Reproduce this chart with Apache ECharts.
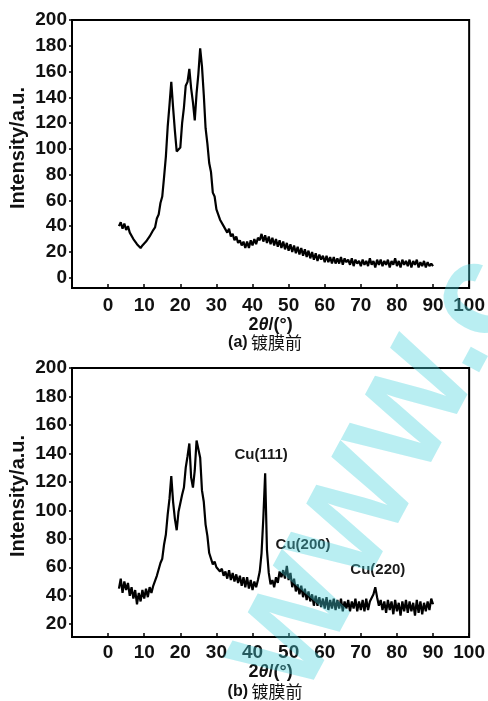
<!DOCTYPE html>
<html>
<head>
<meta charset="utf-8">
<script src="https://cdn.jsdelivr.net/npm/echarts@6/dist/echarts.min.js"></script>
<style>
html,body{margin:0;padding:0;background:#fff;}
#chart{width:488px;height:701px;}
</style>
</head>
<body>
<div id="chart"></div>
<script>
// 2θ sampling positions (degrees), shared by both patterns
var theta = [3,3.5,4,4.5,5,5.5,6,6.5,7,7.5,8,8.5,9,9.5,10,10.5,11,11.5,12,12.5,13,13.5,14,14.5,15,15.5,16,16.5,17,17.5,18,18.5,19,19.5,20,20.5,21,21.5,22,22.5,23,23.5,24,24.5,25,25.5,26,26.5,27,27.5,28,28.5,29,29.5,30,30.5,31,31.5,32,32.5,33,33.5,34,34.5,35,35.5,36,36.5,37,37.5,38,38.5,39,39.5,40,40.5,41,41.5,42,42.5,43,43.5,44,44.5,45,45.5,46,46.5,47,47.5,48,48.5,49,49.5,50,50.5,51,51.5,52,52.5,53,53.5,54,54.5,55,55.5,56,56.5,57,57.5,58,58.5,59,59.5,60,60.5,61,61.5,62,62.5,63,63.5,64,64.5,65,65.5,66,66.5,67,67.5,68,68.5,69,69.5,70,70.5,71,71.5,72,72.5,73,73.5,74,74.5,75,75.5,76,76.5,77,77.5,78,78.5,79,79.5,80,80.5,81,81.5,82,82.5,83,83.5,84,84.5,85,85.5,86,86.5,87,87.5,88,88.5,89,89.5,90];

// (a) before coating
var intensityA = [
40,43,38,42,37,40,35,36,30,30,
26,27,23,25,24,28,27,32,32,37,
39,46,49,58,63,78,94,117,134,152,
132,114,98,97,101,120,132,149,152,162,
147,136,122,143,158,178,164,142,116,104,
89,82,66,63,53,53,45,46,40,41,
35,38,32,34,29,32,27,29,25,28,
23,28,23,29,25,30,26,31,29,34,
28,33,27,32,26,31,25,30,24,29,
23,28,22,27,21,26,20,25,19,24,
18,23,17,22,16,21,15,20,14,19,
13,18,14,17,12,17,12,16,11,16,
11,15,11,16,10,15,12,14,10,15,
9,14,11,13,9,14,10,13,9,15,
10,13,8,14,10,14,9,13,10,14,
8,13,10,15,9,13,8,14,10,13,
9,14,8,13,10,14,8,12,9,13,
8,12,9,11,9];

// (b)
var intensityB = [
45,52,42,50,44,49,40,46,38,44,
34,42,36,44,38,45,39,46,42,47,
47,54,55,63,66,76,83,97,108,124,
106,94,86,99,98,111,116,130,138,147,
123,116,128,149,150,137,114,106,90,82,
70,69,62,64,60,60,57,59,54,57,
52,58,51,56,50,55,49,54,47,53,
46,53,45,51,44,50,46,51,57,70,
95,126,72,56,48,51,46,53,49,57,
53,58,52,61,51,56,46,52,43,48,
41,47,39,45,37,43,36,41,33,40,
33,39,32,38,31,39,30,37,31,38,
30,37,31,38,29,36,31,37,29,36,
31,38,29,36,30,37,29,38,30,36,
35,41,46,39,33,37,30,36,28,37,
30,36,27,37,29,35,26,36,29,37,
28,36,29,35,26,37,28,36,27,35,
29,36,30,38,34];

var xTicks = [0,10,20,30,40,50,60,70,80,90,100];
var yTicksA = [0,20,40,60,80,100,120,140,160,180,200];
var yTicksB = [20,40,60,80,100,120,140,160,180,200];

var peakLabels = ['Cu(111)','Cu(200)','Cu(220)'];
var peakTheta = [42.4, 54, 74.7];
var peakIntensity = [139, 75.6, 58];

var captions = ['(a)', '(b)'];
var captionText = '镀膜前';
var yName = 'Intensity/a.u.';

function zip(xs, ys){ var out=[]; for(var i=0;i<xs.length;i++){ out.push([xs[i], ys[i]]); } return out; }

var FONT = "'Liberation Sans', Arial, 'Noto Sans CJK SC', sans-serif";
var labelStyle = {fontSize:19, fontWeight:'bold', color:'#111', fontFamily:FONT};

function makeX(idx, margin, gap){
  return {
    gridIndex: idx, type:'value', min:-10, max:100,
    axisLine:{show:true, onZero:false, lineStyle:{color:'#000', width:2}},
    axisTick:{show:true, inside:true, length:4, customValues:xTicks, lineStyle:{color:'#000', width:1.5}},
    axisLabel:Object.assign({customValues:xTicks, margin:margin}, labelStyle),
    splitLine:{show:false},
    name:'{a|2}{b|θ}{a|/(°)}',
    nameLocation:'middle', nameGap:gap,
    nameTextStyle:{rich:{
      a:{fontSize:18, fontWeight:'bold', color:'#111', fontFamily:FONT},
      b:{fontSize:18, fontWeight:'bold', fontStyle:'italic', color:'#111', fontFamily:FONT}
    }}
  };
}
function makeY(idx, min, ticks){
  return {
    gridIndex: idx, type:'value', min:min, max:200,
    axisLine:{show:true, onZero:false, lineStyle:{color:'#000', width:2}},
    axisTick:{show:true, inside:false, length:3, customValues:ticks, lineStyle:{color:'#000', width:1.5}},
    axisLabel:Object.assign({customValues:ticks, margin:5}, labelStyle),
    splitLine:{show:false}
  };
}

var chart = echarts.init(document.getElementById('chart'), null, {renderer:'canvas'});
chart.setOption({
  backgroundColor:'#fff',
  animation:false,
  grid:[
    {left:72, top:20, width:399, height:268, show:true, borderColor:'#000', borderWidth:2, backgroundColor:'transparent'},
    {left:72, top:368, width:399, height:269, show:true, borderColor:'#000', borderWidth:2, backgroundColor:'transparent'}
  ],
  xAxis:[makeX(0, 8, 24), makeX(1, 6, 22)],
  yAxis:[makeY(0, -8, yTicksA), makeY(1, 11, yTicksB)],
  series:[
    {type:'line', xAxisIndex:0, yAxisIndex:0, data:zip(theta, intensityA), showSymbol:false,
     lineStyle:{color:'#000', width:2.2}, silent:true},
    {type:'line', xAxisIndex:1, yAxisIndex:1, data:zip(theta, intensityB), showSymbol:false,
     lineStyle:{color:'#000', width:2.2}, silent:true,
     markPoint:{
       symbol:'circle', symbolSize:0, silent:true,
       label:{show:true, position:'inside', formatter:'{b}', color:'#1a1a1a', fontSize:15, fontWeight:'bold', fontFamily:FONT},
       data: peakLabels.map(function(n,i){ return {name:n, coord:[peakTheta[i], peakIntensity[i]]}; })
     }}
  ],
  graphic:[
    {type:'text', x:18, y:148, rotation:Math.PI/2,
     style:{text:yName, fontSize:20, fontWeight:'bold', fill:'#111', fontFamily:FONT, align:'center', verticalAlign:'middle'}},
    {type:'text', x:18, y:496, rotation:Math.PI/2,
     style:{text:yName, fontSize:20, fontWeight:'bold', fill:'#111', fontFamily:FONT, align:'center', verticalAlign:'middle'}},
    {type:'text', x:265, y:343,
     style:{text:'{a|'+captions[0]+'} {b|'+captionText+'}', align:'center', verticalAlign:'middle',
       rich:{a:{fontSize:16, fontWeight:'bold', fill:'#111', fontFamily:FONT}, b:{fontSize:17, fill:'#111', fontFamily:"'Noto Sans CJK SC', sans-serif"}}}},
    {type:'text', x:265, y:692,
     style:{text:'{a|'+captions[1]+'} {b|'+captionText+'}', align:'center', verticalAlign:'middle',
       rich:{a:{fontSize:16, fontWeight:'bold', fill:'#111', fontFamily:FONT}, b:{fontSize:17, fill:'#111', fontFamily:"'Noto Sans CJK SC', sans-serif"}}}},
    {type:'text', x:383, y:475, rotation:1.077, z:100, silent:true,
     style:{text:'WWW.c', fontSize:131, fontWeight:'bold', fill:'rgba(70,210,220,0.38)', fontFamily:FONT, align:'center', verticalAlign:'middle'}}
  ]
});
</script>
</body>
</html>
